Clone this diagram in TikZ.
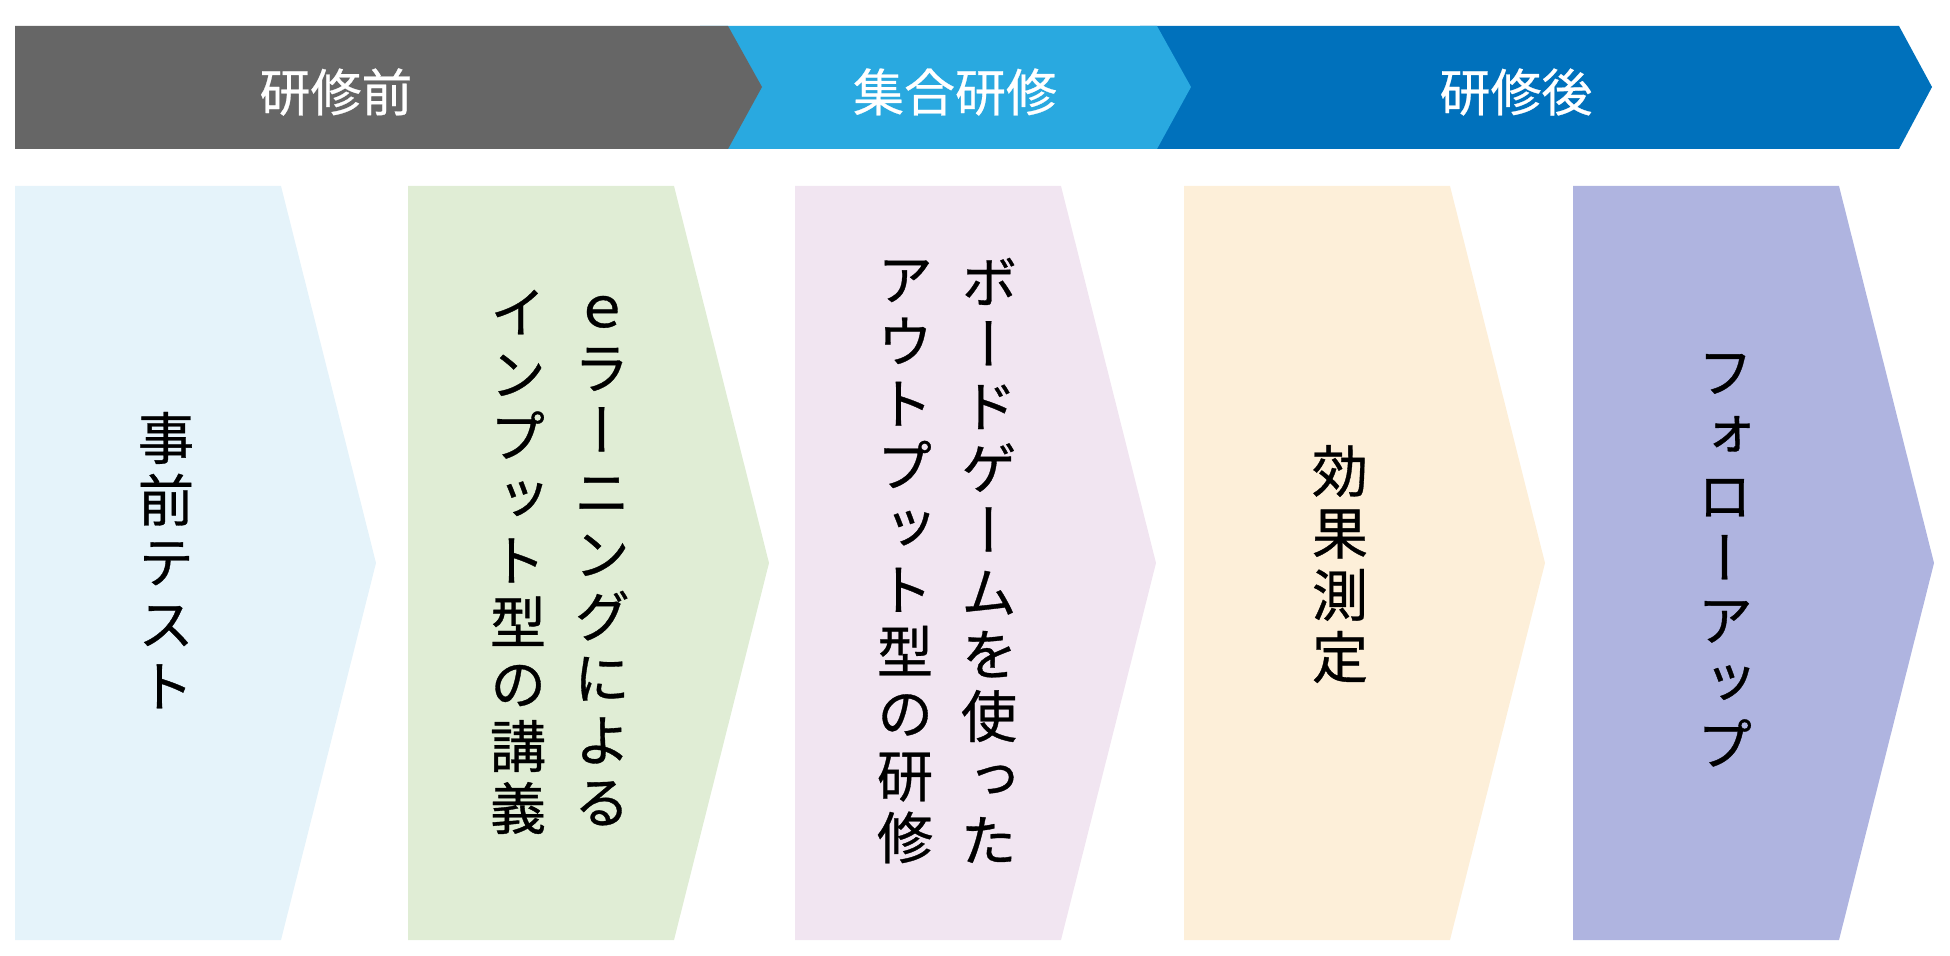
\documentclass[tikz,border=0pt]{standalone}
\usepackage{fontspec}
\usepackage{tikz}
\usetikzlibrary{positioning}
\newfontfamily\jpfont[FakeBold=0.5]{Noto Sans CJK JP}
\newfontfamily\jpvert[RawFeature=+vert,FakeBold=0.6]{Noto Sans CJK JP}
\definecolor{cGray}{HTML}{666666}
\definecolor{cSky}{HTML}{29A9E0}
\definecolor{cBlue}{HTML}{0071BC}
\definecolor{cStepA}{HTML}{E5F3FA}
\definecolor{cStepB}{HTML}{E0EDD5}
\definecolor{cStepC}{HTML}{F1E5F1}
\definecolor{cStepD}{HTML}{FDEFD9}
\definecolor{cStepE}{HTML}{AFB4E0}
\tikzset{
  phase/.style={text=white,inner sep=0pt,font=\jpfont\fontsize{29}{33}\selectfont},
  vcol/.style={align=center,inner sep=0pt,font=\jpvert\fontsize{32}{35.3}\selectfont,
               execute at begin node=\rule{0pt}{0.9em},
               execute at end node=\rule[-0.12em]{0pt}{0pt}},
}
\begin{document}
\begin{tikzpicture}[x=0.02cm,y=-0.02cm]
  \useasboundingbox (0,0) rectangle (1950,956);
  % phase band
  \fill[cBlue] (1140,26) -- (1899,26) -- (1932,87) -- (1899,149) -- (1140,149) -- cycle;
  \fill[cSky]  (700,26) -- (1157,26) -- (1191,87) -- (1157,149) -- (700,149) -- cycle;
  \fill[cGray] (15,26) -- (728,26) -- (762,87) -- (728,149) -- (15,149) -- cycle;
  \node[phase] (pre)  at (336,92)  {研修前};
  \node[phase] (mid)  at (955,92)  {集合研修};
  \node[phase] (post) at (1516,92) {研修後};
  % steps
  \foreach \x/\c in {15/cStepA,408/cStepB,795/cStepC,1184/cStepD,1573/cStepE}{
     \fill[\c] (\x,186) -- ++(266,0) -- ++(95,377) -- ++(-95,377) -- ++(-266,0) -- cycle;}
  \node[vcol] (test)   at (166,563)  {事\\前\\テ\\ス\\ト};
  \node[vcol] (elrnA)  at (602,563)  {ｅ\\ラ\\ー\\ニ\\ン\\グ\\に\\よ\\る};
  \node[vcol] (elrnB)  at (518,563)  {イ\\ン\\プ\\ッ\\ト\\型\\の\\講\\義};
  \node[vcol] (gameA)  at (989,563)  {ボ\\ー\\ド\\ゲ\\ー\\ム\\を\\使\\っ\\た};
  \node[vcol] (gameB)  at (905,563)  {ア\\ウ\\ト\\プ\\ッ\\ト\\型\\の\\研\\修};
  \node[vcol] (effect) at (1340,565) {効\\果\\測\\定};
  \node[vcol] (follow) at (1725,563) {フ\\ォ\\ロ\\ー\\ア\\ッ\\プ};
\end{tikzpicture}
\end{document}
